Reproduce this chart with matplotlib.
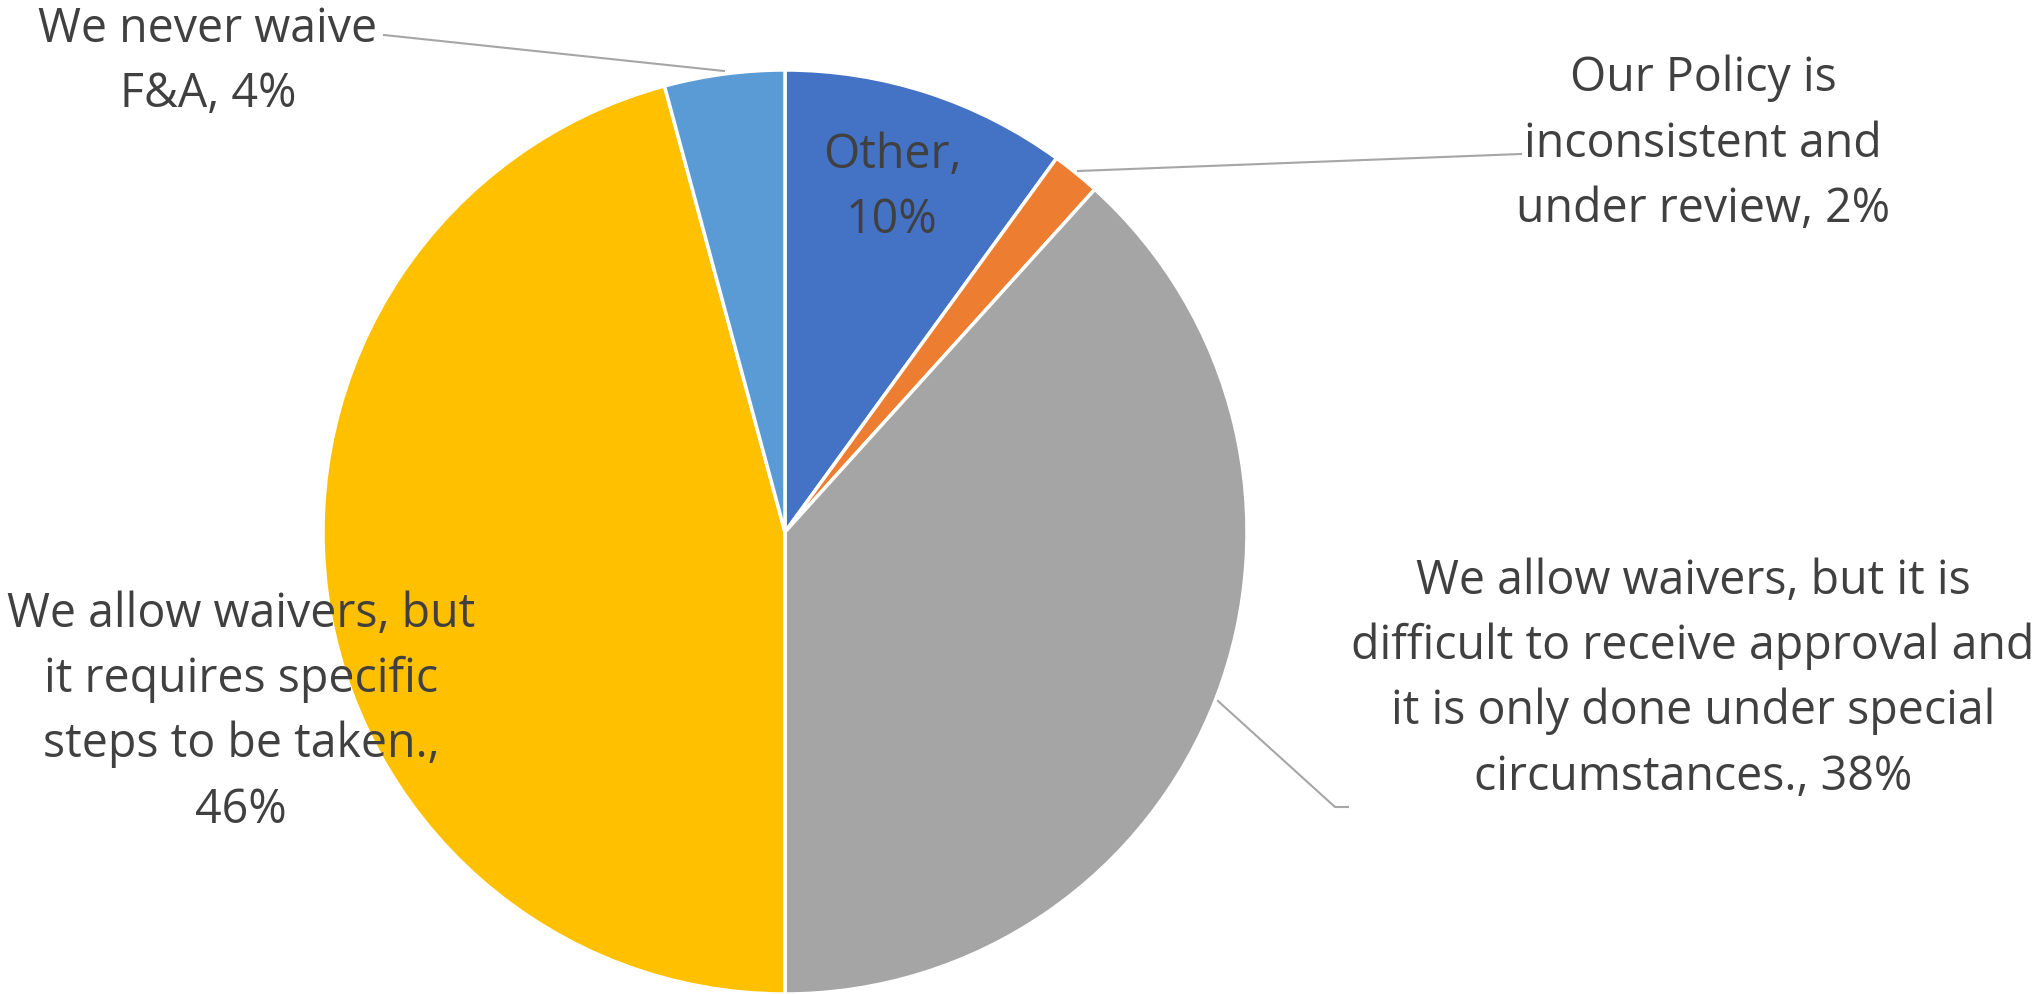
import matplotlib
matplotlib.use("Agg")
import matplotlib.pyplot as plt

categories = [
    "Other",
    "Our Policy is\ninconsistent and\nunder review",
    "We allow waivers, but it is\ndifficult to receive approval and\nit is only done under special\ncircumstances.",
    "We allow waivers, but\nit requires specific\nsteps to be taken.",
    "We never waive\nF&A",
]
values = [10.0, 1.7, 38.3, 45.8, 4.2]
colors = ["#4472C4", "#ED7D31", "#A5A5A5", "#FFC000", "#5B9BD5"]

W, H = 2038, 995
fig = plt.figure(figsize=(W / 100, H / 100), dpi=100)
ax = fig.add_axes([0, 0, 1, 1])
ax.set_xlim(0, W)
ax.set_ylim(0, H)
ax.set_aspect("equal")
ax.axis("off")

cx, cy, r = 785, H - 533, 462
ax.pie(values, colors=colors, startangle=90, counterclock=False,
       center=(cx, cy), radius=r, frame=True,
       wedgeprops=dict(edgecolor="white", linewidth=2.5))
ax.set_xlim(0, W)
ax.set_ylim(0, H)
ax.axis("off")

def label(i, sep=", "):
    name = categories[i]
    pct = f"{round(values[i]):d}%"
    return name + sep + pct

font = dict(family="Open Sans", fontsize=33.5, color="#404040",
            ha="center", va="center", linespacing=1.49)

# label positions (pixel coords from top)
ax.text(208, H - 62, label(4), **font)
ax.text(892, H - 188, label(0, ",\n"), **font)
ax.text(1703, H - 144, label(1), **font)
ax.text(1693, H - 679, label(2), **font)
ax.text(241, H - 712, label(3, ",\n"), **font)

lc = "#A6A6A6"
ax.plot([384, 724], [H - 36, H - 72], color=lc, lw=1.5)
ax.plot([1078, 1521], [H - 172, H - 155], color=lc, lw=1.5)
ax.plot([1218, 1335, 1348], [H - 702, H - 808, H - 808], color=lc, lw=1.5)

fig.savefig("out.png", dpi=100)
